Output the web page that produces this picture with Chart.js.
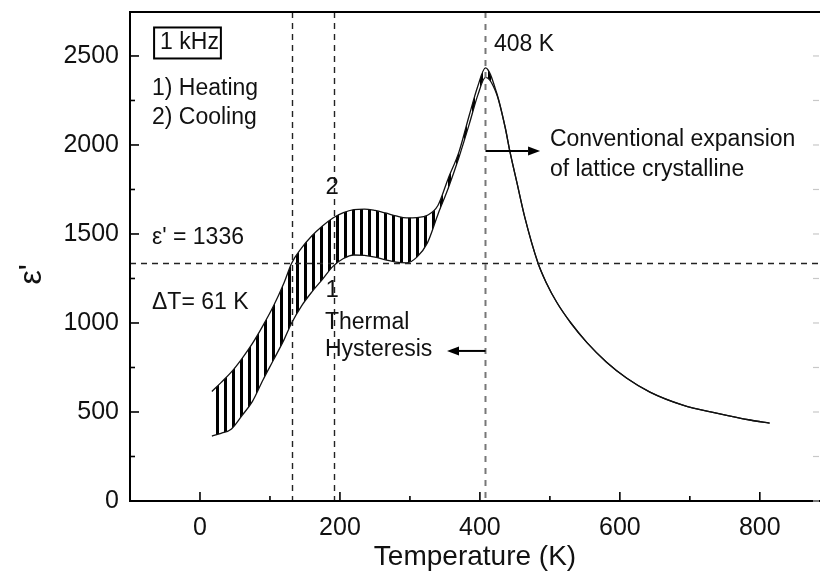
<!DOCTYPE html>
<html>
<head>
<meta charset="utf-8">
<script src="https://cdn.jsdelivr.net/npm/chart.js@4.4.1/dist/chart.umd.min.js"></script>
<style>
  html, body { margin: 0; padding: 0; background: #fff; }
  #wrap { width: 820px; height: 578px; }
</style>
</head>
<body>
<div id="wrap"><canvas id="chartCanvas" width="820" height="578"></canvas></div>
<script>
// Temperature (K) shared by both runs
const temps = [17, 30, 45, 60, 75, 90, 105, 120, 131, 145, 160, 175, 190, 205, 220, 235, 250, 265, 280, 295, 310, 325, 340, 355, 370, 385, 397, 408, 424, 436, 443, 453, 464, 483, 495, 510, 530, 553, 581, 610, 643, 690, 738, 786, 814];
// 1) Heating (lower branch)
const heating = [365, 380, 405, 480, 560, 680, 792, 905, 1000, 1095, 1175, 1245, 1318, 1362, 1382, 1380, 1370, 1355, 1342, 1338, 1370, 1450, 1610, 1760, 1930, 2120, 2280, 2380, 2285, 2101, 1961, 1787, 1596, 1337, 1225, 1115, 1000, 890, 780, 690, 612, 539, 494, 455, 438];
// 2) Cooling (upper branch)
const cooling = [615, 665, 725, 800, 885, 985, 1095, 1225, 1336, 1420, 1490, 1545, 1590, 1620, 1637, 1640, 1632, 1618, 1602, 1590, 1592, 1605, 1660, 1815, 1960, 2170, 2330, 2433, 2292, 2101, 1961, 1787, 1596, 1337, 1225, 1115, 1000, 890, 780, 690, 612, 539, 494, 455, 438];

const xTicks = [0, 200, 400, 600, 800];
const xMinor = [100, 300, 500, 700];
const yTicks = [0, 500, 1000, 1500, 2000, 2500];
const yMinor = [250, 750, 1250, 1750, 2250];

const epsMark = 1336;      // horizontal dashed line
const tCool = 131;         // cooling branch reaches 1336
const tHeat = 192;         // heating branch reaches 1336 (dT = 61 K)
const tPeak = 408;

const FONT = '"Liberation Sans", Arial, sans-serif';

// vertical hatching between the two branches
function makeHatch() {
    const c = document.createElement('canvas');
    c.width = 8; c.height = 8;
    const g = c.getContext('2d');
    g.fillStyle = '#000';
    g.fillRect(0, 0, 3, 8);
    return document.getElementById('chartCanvas').getContext('2d').createPattern(c, 'repeat');
}

function toPoints(ys) {
    return temps.map((t, i) => ({ x: t, y: ys[i] }));
}

function drawArrow(ctx, x1, y, x2) {
    const dir = x2 > x1 ? 1 : -1;
    const head = 12;
    ctx.beginPath();
    ctx.moveTo(x1, y);
    ctx.lineTo(x2 - dir * head, y);
    ctx.stroke();
    ctx.beginPath();
    ctx.moveTo(x2, y);
    ctx.lineTo(x2 - dir * head, y - 4.5);
    ctx.lineTo(x2 - dir * head, y + 4.5);
    ctx.closePath();
    ctx.fill();
}

const overlay = {
    id: 'overlay',
    afterDatasetsDraw(chart) {
        const { ctx, chartArea: a, scales: { x, y } } = chart;
        ctx.save();
        ctx.strokeStyle = '#222';
        ctx.lineWidth = 1.4;
        ctx.setLineDash([6, 5]);
        [tCool, tHeat].forEach(t => {
            const px = Math.round(x.getPixelForValue(t)) + 0.5;
            ctx.beginPath(); ctx.moveTo(px, a.top); ctx.lineTo(px, a.bottom); ctx.stroke();
        });
        const py = Math.round(y.getPixelForValue(epsMark)) + 0.5;
        ctx.beginPath(); ctx.moveTo(a.left, py); ctx.lineTo(a.right, py); ctx.stroke();
        ctx.strokeStyle = '#777';
        ctx.lineWidth = 2;
        ctx.setLineDash([6, 6]);
        const pk = x.getPixelForValue(tPeak);
        ctx.beginPath(); ctx.moveTo(pk, a.top); ctx.lineTo(pk, a.bottom); ctx.stroke();
        ctx.restore();
    },
    afterDraw(chart) {
        const { ctx, chartArea: a, scales: { x, y } } = chart;
        ctx.save();
        // frame
        ctx.strokeStyle = '#000';
        ctx.lineWidth = 2;
        ctx.beginPath();
        ctx.moveTo(a.right + 2, a.top);
        ctx.lineTo(a.left, a.top);
        ctx.lineTo(a.left, a.bottom);
        ctx.lineTo(a.right + 2, a.bottom);
        ctx.stroke();
        // inward ticks
        ctx.lineWidth = 1.6;
        xTicks.forEach(v => { const p = x.getPixelForValue(v); ctx.beginPath(); ctx.moveTo(p, a.bottom); ctx.lineTo(p, a.bottom - 9); ctx.stroke(); });
        xMinor.forEach(v => { const p = x.getPixelForValue(v); ctx.beginPath(); ctx.moveTo(p, a.bottom); ctx.lineTo(p, a.bottom - 5); ctx.stroke(); });
        yTicks.forEach(v => { const p = y.getPixelForValue(v); ctx.beginPath(); ctx.moveTo(a.left, p); ctx.lineTo(a.left + 9, p); ctx.stroke(); });
        yMinor.forEach(v => { const p = y.getPixelForValue(v); ctx.beginPath(); ctx.moveTo(a.left, p); ctx.lineTo(a.left + 5, p); ctx.stroke(); });
        // faint ticks of the cropped right axis
        ctx.strokeStyle = '#c8c8c8';
        ctx.lineWidth = 1.2;
        yTicks.concat(yMinor).forEach(v => { const p = y.getPixelForValue(v); ctx.beginPath(); ctx.moveTo(a.right - 1, p); ctx.lineTo(a.right - 7, p); ctx.stroke(); });

        // annotations
        ctx.fillStyle = '#111';
        ctx.strokeStyle = '#000';
        ctx.textBaseline = 'middle';
        const txt = (s, tx, ey, size, align) => {
            ctx.font = size + 'px ' + FONT;
            ctx.textAlign = align || 'left';
            ctx.fillText(s, x.getPixelForValue(tx), y.getPixelForValue(ey));
        };
        // boxed frequency label
        ctx.font = '23px ' + FONT;
        const kx = x.getPixelForValue(-57), ky = y.getPixelForValue(2573);
        const kw = ctx.measureText('1 kHz').width;
        ctx.textAlign = 'left';
        ctx.fillText('1 kHz', kx, ky);
        ctx.lineWidth = 2;
        ctx.strokeRect(kx - 6, ky - 15.5, kw + 8, 31);

        txt('1) Heating', -68.6, 2315, 23);
        txt('2) Cooling', -68.6, 2152, 23);
        txt("ε' = 1336", -68.6, 1478, 23);
        txt('ΔT= 61 K', -68.6, 1112, 23);
        txt('2', 189, 1764, 24, 'center');
        txt('1', 189, 1185, 24, 'center');
        txt('Thermal', 178.6, 1000, 23);
        txt('Hysteresis', 178.6, 848, 23);
        txt('408 K', 420, 2562, 23);
        txt('Conventional expansion', 500, 2028, 23);
        txt('of lattice crystalline', 500, 1860, 23);

        ctx.fillStyle = '#000';
        ctx.lineWidth = 2;
        drawArrow(ctx, x.getPixelForValue(tPeak), y.getPixelForValue(1966), x.getPixelForValue(486));
        drawArrow(ctx, x.getPixelForValue(tPeak), y.getPixelForValue(843), x.getPixelForValue(353));
        ctx.restore();
    }
};

const ctx = document.getElementById('chartCanvas').getContext('2d');
const chart = new Chart(ctx, {
    type: 'line',
    data: {
        datasets: [
            {
                label: '1) Heating',
                data: toPoints(heating),
                borderColor: '#111',
                borderWidth: 1.3,
                pointRadius: 0,
                cubicInterpolationMode: 'monotone',
                fill: false
            },
            {
                label: '2) Cooling',
                data: toPoints(cooling),
                borderColor: '#111',
                borderWidth: 1.3,
                pointRadius: 0,
                cubicInterpolationMode: 'monotone',
                backgroundColor: makeHatch(),
                fill: '-1'
            }
        ]
    },
    options: {
        responsive: false,
        animation: false,
        layout: { padding: { top: 12, right: 0, left: 0, bottom: 0 } },
        plugins: { legend: { display: false }, tooltip: { enabled: false } },
        scales: {
            x: {
                type: 'linear',
                min: -100,
                max: 886,
                afterBuildTicks: s => { s.ticks = xTicks.map(v => ({ value: v })); },
                afterFit: s => { s.height = 77; s.paddingLeft = 0; s.paddingRight = 0; },
                grid: { display: false, drawTicks: false },
                border: { display: false },
                ticks: { color: '#111', padding: 12, font: { family: FONT, size: 25 }, callback: v => String(v) },
                title: { display: true, text: 'Temperature (K)', color: '#111', padding: { top: 0, bottom: 4 }, font: { family: FONT, size: 28 } }
            },
            y: {
                min: 0,
                max: 2747,
                afterBuildTicks: s => { s.ticks = yTicks.map(v => ({ value: v })); },
                afterFit: s => { s.width = 130; s.paddingTop = 0; s.paddingBottom = 0; },
                grid: { display: false, drawTicks: false },
                border: { display: false },
                ticks: { color: '#111', padding: 11, font: { family: FONT, size: 25 }, callback: v => String(v) },
                title: { display: true, text: "ε'    ", color: '#111', padding: { top: 13, bottom: 0 }, font: { family: FONT, size: 32 } }
            }
        }
    },
    plugins: [overlay]
});
</script>
</body>
</html>
